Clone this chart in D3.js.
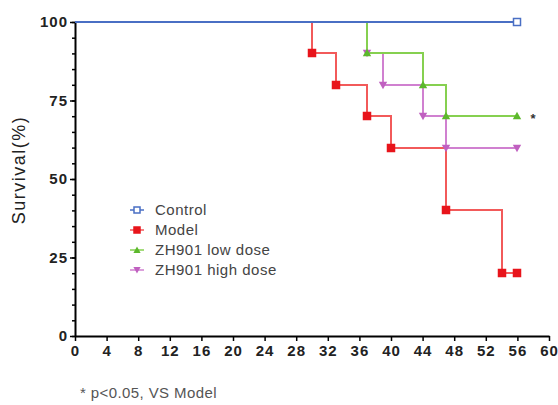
<!DOCTYPE html>
<html>
<head>
<meta charset="utf-8">
<style>
  body { margin: 0; background: #fff; }
  svg { font-family: 'Liberation Sans', Arial, sans-serif; }
  .axis .domain { stroke: #000; stroke-width: 2; }
  .axis .tick line { stroke: #000; stroke-width: 1.5; }
  .axis .tick text { font-size: 15px; font-weight: bold; fill: #222; letter-spacing: 1px; }
</style>
</head>
<body>
<svg width="558" height="405"></svg>
<script src="https://d3js.org/d3.v7.min.js"></script>
<script>
// Kaplan-Meier style steps: [day, survival %]
let groups = ["Control", "Model", "ZH901 low dose", "ZH901 high dose"];
let lineColors = ["#4a6fc4", "#f25a5a", "#86d050", "#d080d0"];
let markColors = ["#4a6fc4", "#e8141b", "#5cb82c", "#c060c0"];
let shapes = ["square-open", "square", "triangle", "triangle-down"];

let control = [[0, 100], [56, 100]];
let model = [[0, 100], [30, 90], [33, 80], [37, 70], [40, 60], [47, 40], [54, 20], [56, 20]];
let lowDose = [[0, 100], [37, 90], [44, 80], [47, 70], [56, 70]];
let highDose = [[0, 100], [37, 90], [39, 80], [44, 70], [47, 60], [56, 60]];
let seriesData = [control, model, lowDose, highDose];

let xTicks = d3.range(0, 61, 4);
let yTicks = [0, 25, 50, 75, 100];
let yMinor = d3.range(0, 101, 5);

let svg = d3.select("svg");
let margin = { top: 22, right: 9, bottom: 69, left: 75 };
let width = 558, height = 405;

let x = d3.scaleLinear().domain([0, 60]).range([margin.left, width - margin.right]);
let y = d3.scaleLinear().domain([0, 100]).range([height - margin.bottom, margin.top]);

// minor y ticks
svg.append("g")
    .attr("class", "axis")
    .attr("transform", `translate(${margin.left},0)`)
    .call(d3.axisLeft(y).tickValues(yMinor).tickSize(3).tickFormat(""))
    .call(g => g.select(".domain").remove());

svg.append("g")
    .attr("class", "axis")
    .attr("transform", `translate(${margin.left},0)`)
    .call(d3.axisLeft(y).tickValues(yTicks).tickSize(5).tickPadding(2).tickSizeOuter(0));

svg.append("g")
    .attr("class", "axis")
    .attr("transform", `translate(0,${y(0)})`)
    .call(d3.axisBottom(x).tickValues(xTicks).tickSize(5).tickPadding(4).tickSizeOuter(0));

// snap to whole pixels so overlapping steps cover each other cleanly
let px = v => Math.round(v);
let line = d3.line().x(d => px(x(d[0]))).y(d => px(y(d[1]))).curve(d3.curveStepAfter);

// draw order: purple, red, green, then control on top
let order = [3, 1, 2, 0];
order.forEach(i => {
    svg.append("path")
        .datum(seriesData[i])
        .attr("fill", "none")
        .attr("stroke", lineColors[i])
        .attr("stroke-width", 2)
        .attr("d", line);
});

function symbol(g, shape, color, cx, cy, size) {
    if (shape === "square" || shape === "square-open") {
        g.append("rect")
            .attr("x", cx - size / 2).attr("y", cy - size / 2)
            .attr("width", size).attr("height", size)
            .attr("fill", shape === "square" ? color : "#fff")
            .attr("stroke", color).attr("stroke-width", 1.5);
    } else {
        let s = size * 0.6;
        let pts = shape === "triangle"
            ? [[cx, cy - s], [cx - s, cy + s * 0.8], [cx + s, cy + s * 0.8]]
            : [[cx, cy + s], [cx - s, cy - s * 0.8], [cx + s, cy - s * 0.8]];
        g.append("polygon")
            .attr("points", pts.map(p => p.join(",")).join(" "))
            .attr("fill", color);
    }
}

order.forEach(i => {
    let g = svg.append("g");
    seriesData[i].slice(1).forEach(d => {
        symbol(g, shapes[i], markColors[i], px(x(d[0])), px(y(d[1])), 7);
    });
});

// significance star
svg.append("text")
    .attr("x", x(56) + 13).attr("y", y(70) + 7)
    .attr("font-size", 13).attr("font-weight", "bold").attr("fill", "#333")
    .text("*");

// legend
let legend = svg.append("g").attr("transform", "translate(130,210)");
groups.forEach((name, i) => {
    let row = legend.append("g").attr("transform", `translate(0,${i * 20})`);
    row.append("line").attr("x1", 0).attr("x2", 14).attr("y1", 0).attr("y2", 0)
        .attr("stroke", lineColors[i]).attr("stroke-width", 1.5);
    symbol(row, shapes[i], markColors[i], 7, 0, 6);
    row.append("text").attr("x", 25).attr("y", 5)
        .attr("font-size", 15).attr("letter-spacing", 0.5)
        .attr("fill", "#444").text(name);
});

// y label
svg.append("text")
    .attr("transform", `translate(25,170) rotate(-90)`)
    .attr("text-anchor", "middle")
    .attr("font-size", 18).attr("letter-spacing", 1.5).attr("fill", "#222")
    .text("Survival(%)");

// footnote
svg.append("text")
    .attr("x", 80).attr("y", 398)
    .attr("font-size", 15).attr("letter-spacing", 0.4).attr("fill", "#555")
    .text("* p<0.05, VS Model");
</script>
</body>
</html>
